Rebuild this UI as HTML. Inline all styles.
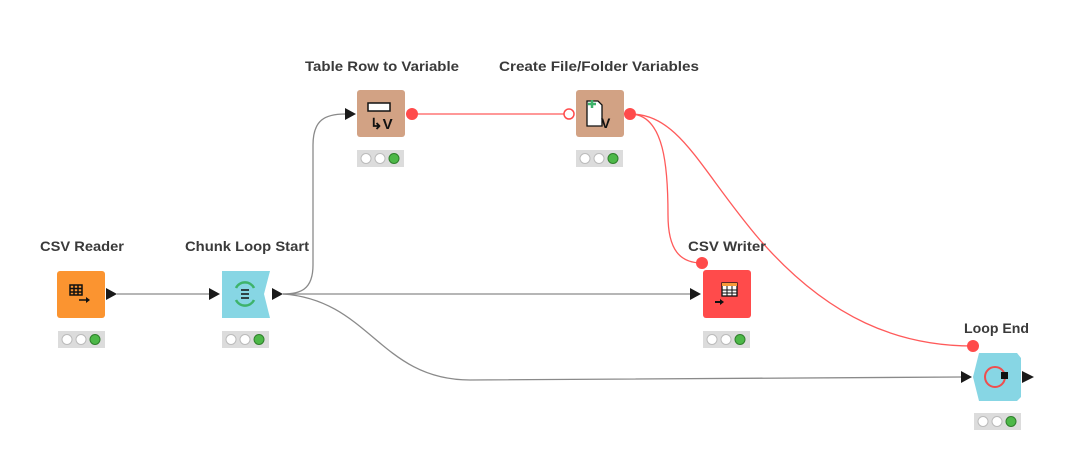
<!DOCTYPE html>
<html><head><meta charset="utf-8"><style>
html,body{margin:0;padding:0;background:#fff;width:1089px;height:467px;overflow:hidden}
text{font-family:"Liberation Sans",sans-serif;font-weight:bold;font-size:14px;fill:#3a3a3a}
</style></head><body>
<svg width="1089" height="467" viewBox="0 0 1089 467" xmlns="http://www.w3.org/2000/svg">
<defs>
<g id="s">
<rect x="0" y="0" width="47" height="17" fill="#dcdcdc"/>
<circle cx="9" cy="8.5" r="5" fill="#fff" stroke="#bbb"/>
<circle cx="23" cy="8.5" r="5" fill="#fff" stroke="#bbb"/>
<circle cx="37" cy="8.5" r="5" fill="#4db848" stroke="#2f7f2c"/>
</g>
</defs>
<g fill="none" stroke="#8a8a8a" stroke-width="1.3">
<path d="M117 294 L209 294"/>
<path d="M283 294 C300 294 313 290 313 265 L313 145 C313 120 325 114 345 114"/>
<path d="M283 294 L690 294"/>
<path d="M283 294 C370 300 380 380 470 380 L961 377"/>
</g>
<g fill="none" stroke="#ff5a5a" stroke-width="1.3">
<path d="M412 114 L569 114"/>
<path d="M630 114 C665 114 668 170 668 215 C668 250 680 263 702 263"/>
<path d="M630 114 C680 114 700 170 760 240 C830 320 900 346 973 346"/>
</g>
<g fill="#1a1a1a">
<path d="M106 288 L117 294 L106 300Z"/>
<path d="M209 288 L220 294 L209 300Z"/>
<path d="M272 288 L283 294 L272 300Z"/>
<path d="M345 108 L356 114 L345 120Z"/>
<path d="M690 288 L701 294 L690 300Z"/>
<path d="M961 371 L972 377 L961 383Z"/>
<path d="M1022 371 L1034 377 L1022 383Z"/>
</g>
<rect x="57" y="271" width="48" height="47" rx="3" fill="#fb9430"/>
<g fill="none" stroke="#111" stroke-width="1.5"><rect x="70" y="285" width="12" height="10"/><path d="M70 288.5h12M70 292h12M74 285v10M78 285v10M79 300h9"/></g><path d="M86 297 L90 300 L86 303Z" fill="#111"/>
<path d="M222 271 H270 L264 294 L270 318 H222Z" fill="#87d6e4"/>
<g fill="none" stroke="#3eb36b" stroke-width="2.5"><path d="M236 288 A10 10 0 0 1 254 288"/><path d="M254 300 A10 10 0 0 1 236 300"/></g>
<g stroke="#111" stroke-width="1.5"><path d="M241 290h8M241 294h8M241 298h8"/></g>
<rect x="357" y="90" width="48" height="47" rx="3" fill="#d2a284"/>
<rect x="368" y="103" width="22" height="8" fill="#fff" stroke="#111" stroke-width="1.5"/>
<text x="370" y="129" style="font-size:15px;fill:#111">↳V</text>
<rect x="576" y="90" width="48" height="47" rx="3" fill="#d2a284"/>
<path d="M587 101h11l4 4v21h-15z" fill="#fff" stroke="#111" stroke-width="1.3"/>
<path d="M592 100v8M588 104h8" stroke="#3eb36b" stroke-width="2.5"/>
<text x="601" y="128" style="font-size:14px;fill:#111">V</text>
<rect x="703" y="270" width="48" height="48" rx="3" fill="#ff4b4b"/>
<rect x="722" y="283" width="15" height="13" fill="#fff" stroke="#111" stroke-width="1.3"/><rect x="722" y="283" width="15" height="3" fill="#f79a3a"/>
<path d="M722 290h15M722 293h15M727 286v10M732 286v10" stroke="#111" stroke-width="1"/>
<path d="M715 302h7" stroke="#111" stroke-width="2"/><path d="M720 299 L724 302 L720 305Z" fill="#111"/>
<path d="M979 353 H1017 L1021 358 V397 L1017 401 H979 L973 377Z" fill="#87d6e4"/>
<circle cx="995" cy="377" r="10" fill="none" stroke="#ef4e4e" stroke-width="2"/>
<rect x="1001" y="372" width="7" height="7" fill="#111"/>
<circle cx="412" cy="114" r="6" fill="#ff4b4b"/>
<circle cx="569" cy="114" r="5" fill="#fff" stroke="#ff4b4b" stroke-width="1.5"/>
<circle cx="630" cy="114" r="6" fill="#ff4b4b"/>
<circle cx="702" cy="263" r="6" fill="#ff4b4b"/>
<circle cx="973" cy="346" r="6" fill="#ff4b4b"/>
<use href="#s" x="58" y="331"/>
<use href="#s" x="222" y="331"/>
<use href="#s" x="357" y="150"/>
<use href="#s" x="576" y="150"/>
<use href="#s" x="703" y="331"/>
<use href="#s" x="974" y="413"/>
<text x="40" y="251" textLength="84" lengthAdjust="spacingAndGlyphs">CSV Reader</text>
<text x="185" y="251" textLength="124" lengthAdjust="spacingAndGlyphs">Chunk Loop Start</text>
<text x="305" y="71" textLength="154" lengthAdjust="spacingAndGlyphs">Table Row to Variable</text>
<text x="499" y="71" textLength="200" lengthAdjust="spacingAndGlyphs">Create File/Folder Variables</text>
<text x="688" y="251" textLength="78" lengthAdjust="spacingAndGlyphs">CSV Writer</text>
<text x="964" y="333" textLength="65" lengthAdjust="spacingAndGlyphs">Loop End</text>
</svg>
</body></html>
